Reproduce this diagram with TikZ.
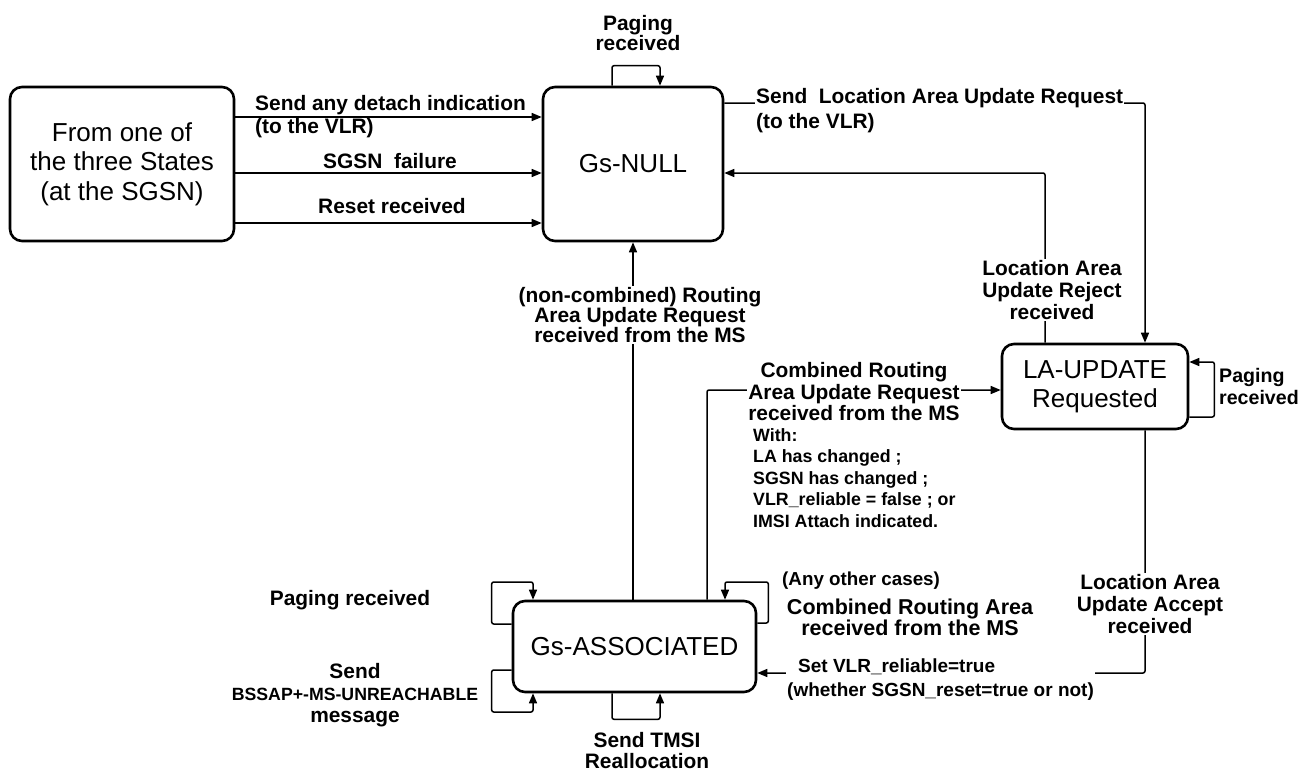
\documentclass[tikz,border=0pt]{standalone}
\usepackage{fontspec}
\setmainfont{Liberation Sans}
\usetikzlibrary{arrows.meta}

\begin{document}
\begin{tikzpicture}[x=1pt, y=-1pt,
        state/.style={draw, rectangle, rounded corners=12pt, line width=2.6pt, align=center, font=\fontsize{26}{29.5}\selectfont},
        lbl/.style={align=center, inner sep=1pt, font=\bfseries\fontsize{20.9}{22}\selectfont},
        smalllbl/.style={align=left, inner sep=1pt, font=\bfseries\fontsize{17.8}{21.5}\selectfont},
        arr/.style={line width=1.5pt, rounded corners=2pt, -{Triangle[length=10pt,width=8pt]}}]
        \useasboundingbox (0,0) rectangle (1302,774);

        % States
        % Define the nodes
        \node[state, minimum width=224pt, minimum height=154pt] (from) at (122,164) {From one of\\the three States\\(at the SGSN)};
        \node[state, minimum width=180pt, minimum height=154pt] (gsnull) at (633,164) {Gs-NULL};
        \node[state, minimum width=186pt, minimum height=85pt] (laupd) at (1095,386.5) {LA-UPDATE\\Requested};
        \node[state, minimum width=243pt, minimum height=91pt] (gsassoc) at (634.5,646.5) {Gs-ASSOCIATED};

        % Connect the nodes
        \draw[arr] ([yshift=47pt]from.east) -- ([yshift=47pt]gsnull.west);
        \draw[arr] ([yshift=-9pt]from.east) -- ([yshift=-9pt]gsnull.west);
        \draw[arr] ([yshift=-59pt]from.east) -- ([yshift=-59pt]gsnull.west);
        \draw[arr] ([xshift=-21pt]gsnull.north) -- ++(0,-20) -| ([xshift=27pt]gsnull.north);
        \draw[arr] ([yshift=61pt]gsnull.east) -| ([xshift=50pt]laupd.north);
        \draw[arr] ([xshift=-50pt]laupd.north) |- ([yshift=-9pt]gsnull.east);
        \draw[arr] ([yshift=-30.5pt]laupd.east) -| ++(25,-55) -- ([yshift=24.5pt]laupd.east);
        \draw[arr] (gsnull.south |- gsassoc.north) -- (gsnull.south);
        \draw[arr] ([xshift=72.5pt]gsassoc.north) |- ([yshift=-3.5pt]laupd.west);
        \draw[arr] ([xshift=50pt]laupd.south) |- ([yshift=-26.5pt]gsassoc.east);
        \draw[arr] ([yshift=22.5pt]gsassoc.west) -| ++(-20,-42) -| ([xshift=-101.5pt]gsassoc.north);
        \draw[arr] ([yshift=-23.5pt]gsassoc.west) -| ++(-20,42) -| ([xshift=-101.5pt]gsassoc.south);
        \draw[arr] ([xshift=-22.5pt]gsassoc.south) -- ++(0,26) -| ([xshift=25.5pt]gsassoc.south);
        \draw[arr] ([yshift=23.5pt]gsassoc.east) -| ++(11,-41) -| ([xshift=90.5pt]gsassoc.north);

        % Labels
        \node[lbl, anchor=west, align=left, font=\bfseries\fontsize{20.9}{23}\selectfont] (ldetach) at (254,116.5) {Send any detach indication\\(to the VLR)};
        \node[lbl] (lfail) at (390,161) {SGSN~~failure};
        \node[lbl] (lreset) at (392,206) {Reset received};
        \node[lbl, font=\bfseries\fontsize{20.9}{20}\selectfont] (lpagenull) at (638,33) {Paging\\received};
        \node[lbl, fill=white, anchor=west, align=left, font=\bfseries\fontsize{20.9}{24.5}\selectfont] (lsend) at (755,110.5) {Send~~Location Area Update Request\\(to the VLR)};
        \node[lbl, fill=white] (lreject) at (1052,290) {Location Area\\Update Reject\\received};
        \node[lbl, anchor=west, align=left, font=\bfseries\fontsize{19.6}{22}\selectfont] (lpagela) at (1218,386) {Paging\\received};
        \node[lbl, fill=white, font=\bfseries\fontsize{20.9}{20}\selectfont] (lnoncomb) at (640,315) {(non-combined) Routing\\Area Update Request\\received from the MS};
        \node[lbl, fill=white, font=\bfseries\fontsize{20.9}{21.5}\selectfont] (lcomb) at (854,392) {Combined Routing\\Area Update Request\\received from the MS};
        \node[smalllbl, anchor=west] (lwith) at (752,478) {With:\\LA has changed ;\\SGSN has changed ;\\VLR\_reliable = false ; or\\IMSI Attach indicated.};
        \node[lbl, fill=white] (laccept) at (1150,604) {Location Area\\Update Accept\\received};
        \node[lbl, fill=white, anchor=west, align=left, font=\bfseries\fontsize{19}{24}\selectfont] (lsetvlr) at (786,680) {\hspace*{11pt}Set VLR\_reliable=true\\(whether SGSN\_reset=true or not)};
        \node[smalllbl, anchor=west, font=\bfseries\fontsize{18.8}{21}\selectfont] (lother) at (781,581) {(Any other cases)};
        \node[lbl, font=\bfseries\fontsize{21.5}{21}\selectfont] (lcombother) at (910,617.5) {Combined Routing Area\\received from the MS};
        \node[lbl] (lpageassoc) at (350,600) {Paging received};
        \node[lbl] (lsendunr) at (355,695) {Send\\{\fontsize{17.7}{22}\selectfont BSSAP+-MS-UNREACHABLE}\\message};
        \node[lbl, font=\bfseries\fontsize{20.9}{21}\selectfont] (ltmsi) at (647,751) {Send TMSI\\Reallocation};
    \end{tikzpicture}
\end{document}
